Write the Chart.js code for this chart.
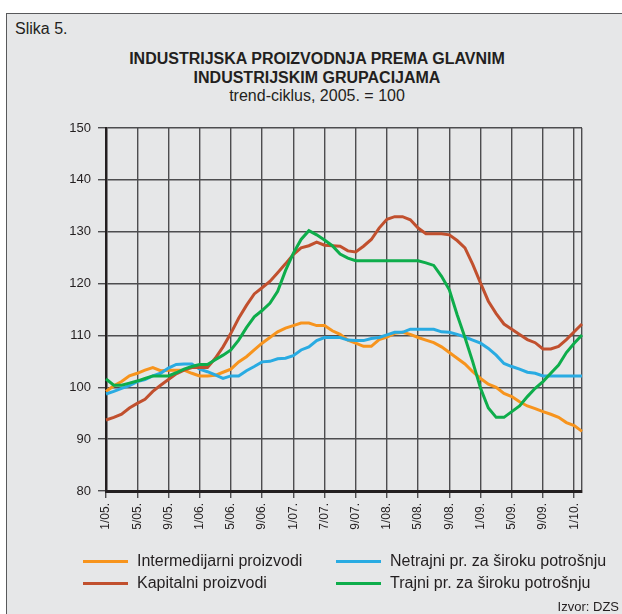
<!DOCTYPE html>
<html lang="hr">
<head>
<meta charset="UTF-8">
<title>Slika 5.</title>
<script src="https://cdn.jsdelivr.net/npm/chart.js"></script>
<style>
  body { margin: 0; background: #fff; font-family: "Liberation Sans", Arial, sans-serif; color: #231f20; }
  #page { position: relative; width: 622px; height: 614px; overflow: hidden; }
  #frame { position: absolute; left: 6px; top: 13px; width: 620px; height: 605px; background: #e6e7e8; border: 1px solid #58595b; }
  #chartBox { position: absolute; left: 0; top: 0; width: 622px; height: 614px; }
  .txt { position: absolute; white-space: nowrap; }
  #slika { left: 15px; top: 20px; font-size: 16px; line-height: 18px; }
  #title { left: 117px; top: 50px; width: 400px; text-align: center; font-size: 16px; line-height: 18.5px; }
  #title b { font-weight: bold; }
  .leg { position: absolute; font-size: 16px; line-height: 20px; white-space: nowrap; }
  .leg span { position: absolute; top: 8.5px; height: 3px; width: 45px; }
  #izvor { right: 3px; top: 599px; font-size: 13px; line-height: 16px; }
</style>
</head>
<body>
<div id="page">
  <div id="frame"></div>
  <div class="txt" id="slika">Slika 5.</div>
  <div class="txt" id="title"><b>INDUSTRIJSKA PROIZVODNJA PREMA GLAVNIM<br>INDUSTRIJSKIM GRUPACIJAMA</b><br>trend-ciklus, 2005. = 100</div>
  <div id="chartBox"><canvas id="chart" width="622" height="614"></canvas></div>

  <div class="leg" style="left:83px; top:551px;"><span style="left:0; background:#f7941d;"></span><div style="margin-left:54px;">Intermedijarni proizvodi</div></div>
  <div class="leg" style="left:83px; top:573px;"><span style="left:0; background:#c1502e;"></span><div style="margin-left:54px;">Kapitalni proizvodi</div></div>
  <div class="leg" style="left:336px; top:551px;"><span style="left:0; background:#29abe2;"></span><div style="margin-left:54px;">Netrajni pr. za široku potrošnju</div></div>
  <div class="leg" style="left:336px; top:573px;"><span style="left:0; background:#0ead4b;"></span><div style="margin-left:54px;">Trajni pr. za široku potrošnju</div></div>
  <div class="txt" id="izvor">Izvor: DZS</div>
</div>

<script>
    // mjeseci od 1/05 do 2/10
    const months = [
        '1/05','2/05','3/05','4/05','5/05','6/05','7/05','8/05','9/05','10/05','11/05','12/05',
        '1/06','2/06','3/06','4/06','5/06','6/06','7/06','8/06','9/06','10/06','11/06','12/06',
        '1/07','2/07','3/07','4/07','5/07','6/07','7/07','8/07','9/07','10/07','11/07','12/07',
        '1/08','2/08','3/08','4/08','5/08','6/08','7/08','8/08','9/08','10/08','11/08','12/08',
        '1/09','2/09','3/09','4/09','5/09','6/09','7/09','8/09','9/09','10/09','11/09','12/09',
        '1/10','2/10'
    ];
    // oznake na osi (svaki 4. mjesec)
    const tickLabels = ['1/05.','5/05.','9/05.','1/06.','5/06.','9/06.','1/07.','7/07.',
                        '9/07.','1/08.','5/08.','9/08.','1/09.','5/09.','9/09.','1/10.'];

    const intermedijarni = [
        99.2, 100.3, 101.1, 102.2, 102.7, 103.3, 103.8, 103.2, 103.3, 103.3,
        103.3, 102.7, 102.2, 102.2, 102.3, 102.9, 103.5, 104.9, 105.9, 107.2,
        108.5, 109.6, 110.7, 111.4, 111.9, 112.4, 112.4, 111.9, 111.9, 110.9,
        110.2, 109.1, 108.5, 107.9, 107.9, 109.2, 109.7, 110.4, 110.6, 110.2,
        109.6, 109.1, 108.6, 107.8, 106.7, 105.6, 104.5, 103.0, 101.7, 100.6,
        100.0, 98.8, 98.2, 97.2, 96.4, 95.9, 95.3, 94.8, 94.2, 93.2,
        92.6, 91.5
    ];
    const netrajni = [
        98.7, 99.2, 99.8, 100.3, 101.1, 101.5, 102.2, 102.7, 103.7, 104.4,
        104.5, 104.5, 103.5, 103.0, 102.4, 101.7, 102.2, 102.2, 103.2, 104.0,
        104.9, 105.0, 105.5, 105.6, 106.1, 107.2, 107.8, 109.0, 109.6, 109.6,
        109.6, 109.1, 109.0, 109.0, 109.4, 109.6, 110.1, 110.6, 110.6, 111.2,
        111.2, 111.2, 111.2, 110.7, 110.6, 110.2, 109.7, 109.1, 108.5, 107.5,
        106.2, 104.6, 104.0, 103.5, 102.9, 102.7, 102.2, 102.2, 102.2, 102.2,
        102.2, 102.2
    ];
    const kapitalni = [
        93.7, 94.2, 94.8, 96.0, 96.9, 97.7, 99.2, 100.4, 101.5, 102.6,
        103.3, 103.8, 103.8, 103.8, 105.6, 107.8, 110.4, 113.3, 115.8, 118.0,
        119.2, 120.4, 122.1, 123.8, 125.6, 126.9, 127.3, 128.0, 127.4, 127.3,
        127.2, 126.3, 126.1, 127.2, 128.5, 130.7, 132.4, 132.9, 132.9, 132.3,
        130.7, 129.6, 129.6, 129.6, 129.4, 128.3, 126.9, 123.7, 120.1, 116.6,
        114.2, 112.2, 111.2, 110.2, 109.2, 108.6, 107.4, 107.4, 107.9, 109.2,
        110.7, 112.2
    ];
    const trajni = [
        101.6, 100.4, 100.4, 100.8, 101.2, 101.7, 102.2, 102.2, 102.2, 102.8,
        103.5, 104.0, 104.4, 104.4, 105.3, 106.2, 107.2, 109.1, 111.5, 113.6,
        114.8, 116.2, 118.5, 122.5, 125.8, 128.5, 130.2, 129.4, 128.4, 127.3,
        125.7, 124.9, 124.4, 124.4, 124.4, 124.4, 124.4, 124.4, 124.4, 124.4,
        124.4, 124.0, 123.5, 121.4, 118.8, 114.0, 109.6, 104.9, 99.8, 96.0,
        94.2, 94.2, 95.3, 96.4, 98.2, 99.8, 101.1, 102.7, 104.3, 106.7,
        108.5, 110.1
    ];

    const gridColor = '#4d4d4f';
    const lastIndex = months.length - 1;

    function serija(label, data, color) {
        return {
            label: label,
            data: data,
            borderColor: color,
            borderWidth: 3,
            pointRadius: 0,
            tension: 0,
            fill: false
        };
    }

    const ctx = document.getElementById('chart').getContext('2d');
    const chart = new Chart(ctx, {
        type: 'line',
        data: {
            labels: months,
            datasets: [
                serija('Trajni pr. za široku potrošnju', trajni, '#0ead4b'),
                serija('Kapitalni proizvodi', kapitalni, '#c1502e'),
                serija('Netrajni pr. za široku potrošnju', netrajni, '#29abe2'),
                serija('Intermedijarni proizvodi', intermedijarni, '#f7941d')
            ]
        },
        options: {
            responsive: false,
            animation: false,
            layout: { padding: { left: 0, right: 40, top: 128, bottom: 0 } },
            plugins: {
                legend: { display: false },
                title: { display: false },
                tooltip: { enabled: false }
            },
            scales: {
                x: {
                    type: 'category',
                    offset: false,
                    afterFit: function(scale) { scale.height = 123; },
                    grid: {
                        color: function(c) {
                            return (c.index % 4 === 0 || c.index === lastIndex) ? gridColor : 'rgba(0,0,0,0)';
                        },
                        tickColor: function(c) {
                            return c.index % 4 === 0 ? gridColor : 'rgba(0,0,0,0)';
                        },
                        lineWidth: 1.4,
                        tickLength: 7
                    },
                    border: { color: '#231f20', width: 3 },
                    ticks: {
                        autoSkip: false,
                        minRotation: 90,
                        maxRotation: 90,
                        padding: 5,
                        color: '#231f20',
                        font: { family: 'Liberation Sans', size: 12 },
                        callback: function(val, i) {
                            return i % 4 === 0 ? tickLabels[i / 4] : '';
                        }
                    }
                },
                y: {
                    min: 80,
                    max: 150,
                    afterFit: function(scale) { scale.width = 106; },
                    grid: {
                        color: gridColor,
                        lineWidth: 1.4,
                        tickLength: 8
                    },
                    border: { color: '#231f20', width: 2.5 },
                    ticks: {
                        stepSize: 10,
                        padding: 7,
                        color: '#231f20',
                        font: { family: 'Liberation Sans', size: 13 }
                    }
                }
            }
        }
    });
</script>
</body>
</html>
